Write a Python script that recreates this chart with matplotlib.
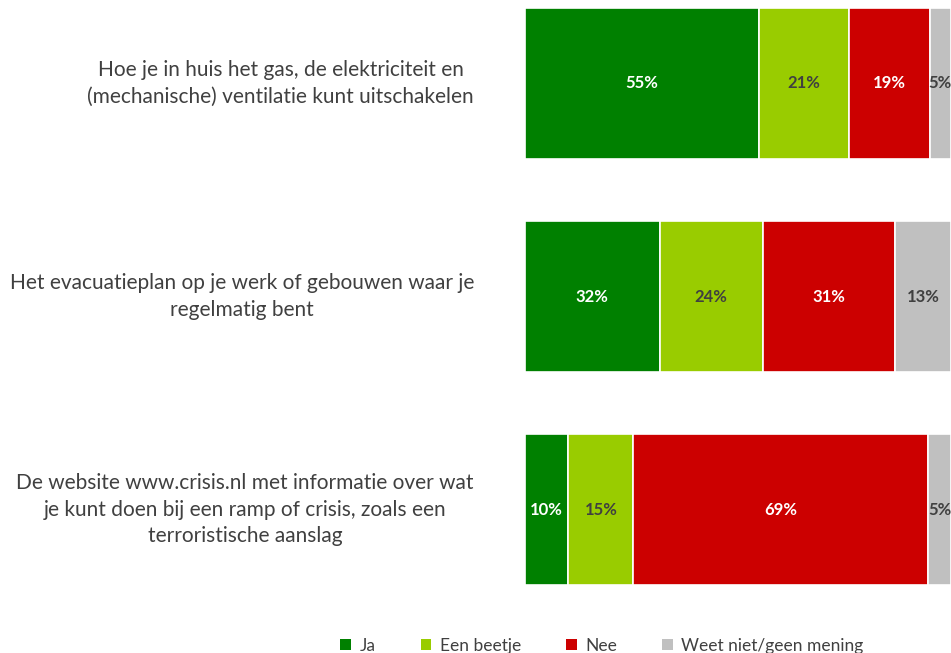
import matplotlib
matplotlib.use("Agg")
import matplotlib.pyplot as plt
from matplotlib.patches import Patch

# categories (top to bottom)
questions = [
    "Hoe je in huis het gas, de elektriciteit en\n(mechanische) ventilatie kunt uitschakelen",
    "Het evacuatieplan op je werk of gebouwen waar je\nregelmatig bent",
    "De website www.crisis.nl met informatie over wat\nje kunt doen bij een ramp of crisis, zoals een\nterroristische aanslag",
]
series_names = ["Ja", "Een beetje", "Nee", "Weet niet/geen mening"]
ja = [55, 31.6, 10.2]
beetje = [21, 24.2, 15.2]
nee = [19, 31.0, 69.3]
weet_niet = [5, 13.2, 5.3]

colors = ["#008000", "#99CC00", "#CC0000", "#C0C0C0"]
label_colors = ["white", "#404040", "white", "#404040"]

plt.rcParams["font.family"] = ["Lato", "DejaVu Sans"]

W, H = 951, 653
fig = plt.figure(figsize=(W / 100, H / 100), dpi=100)
bar_h = 0.707
ax = fig.add_axes([525 / W, (H - 585) / H, 426 / W, 577 / H])
ax.set_xlim(0, 100)
ax.set_ylim(2 + bar_h / 2, -bar_h / 2)
ax.axis("off")

ypos = list(range(len(questions)))
left = [0] * len(questions)
for vals, c, tc in zip([ja, beetje, nee, weet_niet], colors, label_colors):
    ax.barh(ypos, vals, left=left, height=bar_h, color=c, edgecolor="white", linewidth=1.2)
    for y, l, v in zip(ypos, left, vals):
        ax.text(l + v / 2, y, f"{v:.0f}%", ha="center", va="center",
                color=tc, fontsize=12, fontweight="bold", clip_on=False)
    left = [l + v for l, v in zip(left, vals)]

# category labels, right aligned block with centred lines
for y, q in zip(ypos, questions):
    ax.text(-12.0, y, q, ha="right", va="center", multialignment="center",
            fontsize=15, color="#404040", linespacing=1.42)

handles = [Patch(facecolor=c, edgecolor="none") for c in colors]
fig.legend(handles, series_names, loc="center", bbox_to_anchor=(602 / W, 1 - 646 / H),
           ncol=4, frameon=False, fontsize=12.5, handlelength=0.6, handleheight=0.6,
           handletextpad=0.5, columnspacing=2.6, labelcolor="#404040")

fig.savefig("out.png", dpi=100)
